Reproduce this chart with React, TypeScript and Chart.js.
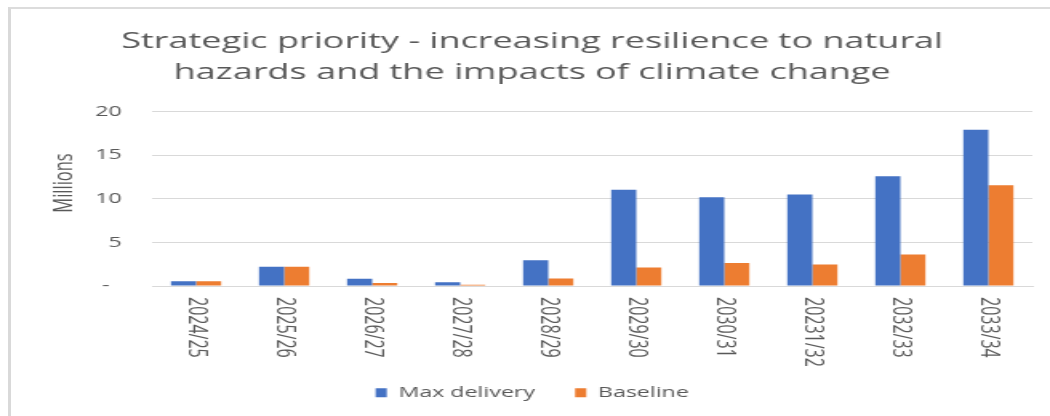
import React, { useEffect, useRef } from "react";
import { Chart, registerables } from "chart.js";

Chart.register(...registerables);

const categories = ["2024/25", "2025/26", "2026/27", "2027/28", "2028/29", "2029/30", "2030/31", "20231/32", "2032/33", "2033/34"];
const maxDelivery = [0.54, 2.22, 0.84, 0.42, 2.96, 11.04, 10.19, 10.5, 12.58, 17.92];
const baseline = [0.54, 2.22, 0.34, 0.15, 0.85, 2.12, 2.65, 2.46, 3.62, 11.54];
const yTicks = [0, 5, 10, 15, 20];
const titleLines = ["Strategic priority - increasing resilience to natural", "hazards and the impacts of climate change"];
const yAxisTitle = "Millions";
const seriesNames = ["Max delivery", "Baseline"];

const TEXT = "#595959";
const GRID = "#d9d9d9";
const FONT = "'Open Sans', 'Noto Sans', sans-serif";
const CANVAS_W = 656;
const CANVAS_H = 416;
const STRETCH = 1050 / CANVAS_W;

const customText = {
  id: "customText",
  afterDraw(chart: any) {
    const ctx = chart.ctx;
    const xs = chart.scales.x;
    ctx.save();
    ctx.fillStyle = TEXT;
    ctx.font = `16px ${FONT}`;
    ctx.textAlign = "left";
    ctx.textBaseline = "middle";
    categories.forEach((lab, i) => {
      const x = xs.getPixelForTick(i);
      ctx.save();
      ctx.translate(x, xs.top + 11);
      ctx.rotate(Math.PI / 2);
      ctx.fillText(lab, 0, 0);
      ctx.restore();
    });
    ctx.save();
    ctx.font = `16.5px ${FONT}`;
    ctx.textAlign = "center";
    ctx.translate(40, 183);
    ctx.rotate(-Math.PI / 2);
    ctx.fillText(yAxisTitle, 0, 0);
    ctx.restore();
    ctx.restore();
  },
};

export default function App() {
  const ref = useRef<HTMLCanvasElement | null>(null);
  useEffect(() => {
    if (!ref.current) return;
    const chart = new Chart(ref.current, {
      type: "bar",
      data: {
        labels: categories,
        datasets: [
          { label: seriesNames[0], data: maxDelivery, backgroundColor: "#4472C4", borderWidth: 0 },
          { label: seriesNames[1], data: baseline, backgroundColor: "#ED7D31", borderWidth: 0 },
        ],
      },
      options: {
        responsive: false,
        maintainAspectRatio: false,
        animation: false,
        devicePixelRatio: 1,
        layout: { padding: { left: 20, right: 11, top: 0, bottom: 6 } },
        datasets: { bar: { categoryPercentage: 0.57, barPercentage: 1.0 } },
        plugins: {
          title: {
            display: true,
            text: titleLines,
            color: TEXT,
            font: { family: FONT, size: 22.5, weight: "normal", lineHeight: 1.38 },
            padding: { top: 26.5, bottom: 23 },
          },
          legend: {
            position: "bottom",
            labels: {
              color: TEXT,
              font: { family: FONT, size: 14.5 },
              boxWidth: 7,
              boxHeight: 9,
              padding: 25,
            },
          },
          tooltip: { enabled: false },
        },
        scales: {
          x: {
            grid: { display: false },
            border: { display: true, color: GRID, width: 1 },
            ticks: { display: false },
            afterFit: (s: any) => {
              s.height = 74.5;
            },
          },
          y: {
            min: 0,
            max: 20,
            afterBuildTicks: (s: any) => {
              s.ticks = yTicks.map((v) => ({ value: v }));
            },
            grid: { color: GRID, lineWidth: 1, drawTicks: false },
            border: { display: false },
            ticks: {
              color: TEXT,
              font: { family: FONT, size: 14.5 },
              padding: 19,
              callback: (v: any) => (Number(v) === 0 ? "-  " : String(v)),
            },
            afterFit: (s: any) => {
              s.width = 75;
            },
          },
        },
      },
      plugins: [customText],
    });
    return () => chart.destroy();
  }, []);

  return (
    <div style={{ position: "absolute", left: 0, top: 0, width: 1050, height: 416, overflow: "hidden", background: "#fff" }}>
      <canvas
        ref={ref}
        width={CANVAS_W}
        height={CANVAS_H}
        style={{
          position: "absolute",
          left: 0,
          top: 0,
          width: CANVAS_W,
          height: CANVAS_H,
          transform: `scaleX(${STRETCH})`,
          transformOrigin: "0 0",
        }}
      />
      <div
        style={{
          position: "absolute",
          left: 8,
          top: 7,
          width: 2000,
          height: 2000,
          borderLeft: "3px solid #d9d9d9",
          borderTop: "2px solid #dcdcdc",
          pointerEvents: "none",
        }}
      />
    </div>
  );
}
